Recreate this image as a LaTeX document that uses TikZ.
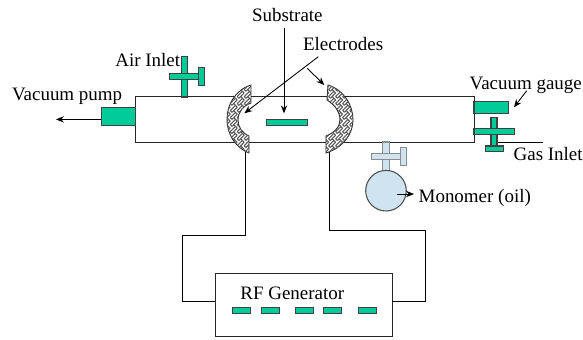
\documentclass[tikz,border=0pt]{standalone}
\usepackage{fontspec}
\setmainfont{Liberation Serif}
\usetikzlibrary{patterns,arrows.meta}
\definecolor{partgreen}{HTML}{00CC99}
\definecolor{oilblue}{HTML}{CFE3F1}
\pgfdeclarepatternformonly{weave}{\pgfqpoint{-0.5pt}{-0.5pt}}{\pgfqpoint{4.5pt}{4.5pt}}{\pgfqpoint{4pt}{4pt}}{
  \pgfsetlinewidth{0.6pt}
  \pgfpathmoveto{\pgfqpoint{0pt}{1pt}}\pgfpathlineto{\pgfqpoint{1pt}{2pt}}
  \pgfpathmoveto{\pgfqpoint{1pt}{0pt}}\pgfpathlineto{\pgfqpoint{2pt}{1pt}}
  \pgfpathmoveto{\pgfqpoint{2pt}{1pt}}\pgfpathlineto{\pgfqpoint{1pt}{2pt}}
  \pgfpathmoveto{\pgfqpoint{3pt}{0pt}}\pgfpathlineto{\pgfqpoint{2pt}{1pt}}
  \pgfpathmoveto{\pgfqpoint{4pt}{1pt}}\pgfpathlineto{\pgfqpoint{3pt}{2pt}}
  \pgfpathmoveto{\pgfqpoint{1pt}{2pt}}\pgfpathlineto{\pgfqpoint{3pt}{4pt}}
  \pgfpathmoveto{\pgfqpoint{3pt}{2pt}}\pgfpathlineto{\pgfqpoint{4pt}{3pt}}
  \pgfpathmoveto{\pgfqpoint{0pt}{3pt}}\pgfpathlineto{\pgfqpoint{1pt}{4pt}}
  \pgfusepath{stroke}
}
\tikzset{
  wh/.style 2 args={minimum width=#1*0.02cm,minimum height=#2*0.02cm},
  part/.style={draw=black!75,line width=0.6pt,fill=partgreen,inner sep=0pt,outer sep=0pt},
  oilpart/.style={draw=black!45,line width=0.6pt,fill=oilblue,inner sep=0pt,outer sep=0pt},
  wall/.style={draw=black!85,line width=0.55pt,inner sep=0pt,outer sep=0pt},
  electrode/.style={draw=black!85,line width=0.5pt,fill=white,postaction={pattern=weave,pattern color=black!65}},
  lbl/.style={anchor=base west,inner sep=0pt,font=\fontsize{10.8}{12}\selectfont},
  wire/.style={black,line width=0.55pt},
  pointer/.style={black,line width=0.5pt,-{Stealth[length=4.5pt,width=3.6pt]}}
}
\begin{document}
\begin{tikzpicture}[x=0.02cm,y=-0.02cm]
\useasboundingbox (0,0) rectangle (583,339);
% chamber and pump
\node[wall,wh={339}{46}] (chamber) at (305,119.5) {};
\node[part,wh={34.4}{17.6}] (pump) at (118.5,116.5) {};
\coordinate (pumpin) at (101.3,119.4);
\coordinate (pumpout) at (56,119.4);
\draw[pointer] (pumpin) -- (pumpout);
% air inlet
\node[part,wh={5.6}{40.3}] (airstem) at (184.5,76.85) {};
\node[part,wh={29}{6.4}] (airbar) at (183.8,76.5) {};
\node[part,wh={6}{17.6}] (airknob) at (201.3,76.5) {};
% electrodes
\path[electrode] (251,85) .. controls (235,90) and (227,105) .. (227,119) .. controls (227,135) and (236,148) .. (249,153) -- (249,136) .. controls (242,133) and (238,127) .. (238,120) .. controls (238,112) and (243,106) .. (251,103) -- cycle;
\path[electrode] (328,85) .. controls (344,90) and (353,105) .. (353,120) .. controls (353,135) and (342,148) .. (326,153) -- (326,136) .. controls (334,133) and (340,127) .. (340,120) .. controls (340,112) and (335,105) .. (327,100) -- cycle;
\coordinate (lefttip) at (245.5,152);
\coordinate (righttip) at (329.5,152);
\coordinate (leftface) at (244.3,113.3);
\coordinate (rightface) at (324.3,85);
% substrate
\node[part,wh={40.6}{6.3}] (substrate) at (287,122.2) {};
\node[lbl] (substratelbl) at (251.7,21) {Substrate};
\coordinate (subfrom) at (284,28);
\coordinate (subto) at (284,113.3);
\draw[pointer] (subfrom) -- (subto);
\node[lbl] (electrodeslbl) at (302.7,50) {Electrodes};
\coordinate (elfrom) at (318.3,56.7);
\coordinate (elmid) at (307.3,68.3);
\draw[pointer] (elfrom) -- (leftface);
\draw[pointer] (elmid) -- (rightface);
% vacuum gauge
\node[part,wh={34.3}{11.6}] (gauge) at (491.15,107.5) {};
\coordinate (gaugefrom) at (526.7,90.7);
\coordinate (gaugeto) at (514,107.3);
\draw[pointer] (gaugefrom) -- (gaugeto);
% gas inlet
\coordinate (gasfrom) at (494,142.5);
\coordinate (gasto) at (543,142.5);
\draw[wire] (gasfrom) -- (gasto);
\node[part,wh={6}{28.7}] (gasstem) at (494,131.65) {};
\node[part,wh={40.3}{5.6}] (gasbar) at (494.15,131.5) {};
\node[part,wh={18}{5.7}] (gasbase) at (494.3,148.85) {};
% monomer
\node[oilpart,wh={6.6}{29}] (oilstem) at (386,156.5) {};
\node[oilpart,wh={29}{6}] (oilbar) at (386.2,156.3) {};
\node[oilpart,wh={5.6}{18}] (oilknob) at (403.5,156.3) {};
\node[oilpart,circle,minimum size=40.6*0.02cm,draw=black!70] (flask) at (386,190.7) {};
\coordinate (flaskfrom) at (396.7,194);
\coordinate (flaskto) at (414,194);
\draw[pointer] (flaskfrom) -- (flaskto);
% rf generator
\node[wall,fill=white,wh={177}{63}] (rf) at (304,304.5) {};
\coordinate (rfleft) at (215.5,301.5);
\coordinate (rfright) at (392.5,301.5);
\coordinate (leftbend) at (182.5,235.5);
\coordinate (rightbend) at (425.5,230.5);
\draw[wire] (lefttip) |- (leftbend) |- (rfleft);
\draw[wire] (righttip) |- (rightbend) |- (rfright);
\foreach \k/\px in {a/241.3,b/270.2,c/304.3,d/332.7,e/367.2}
  \node[part,wh={18}{6.4}] (led\k) at (\px,310.5) {};
% labels
\node[lbl] (pumplbl) at (11.7,100.7) {Vacuum pump};
\node[lbl] (airlbl) at (115,66.7) {Air Inlet};
\node[lbl] (gaugelbl) at (469.3,89.3) {Vacuum gauge};
\node[lbl] (gaslbl) at (513.3,160.7) {Gas Inlet};
\node[lbl] (oillbl) at (418.3,202.7) {Monomer (oil)};
\node[lbl] (rflbl) at (240,299) {RF Generator};
\end{tikzpicture}
\end{document}
